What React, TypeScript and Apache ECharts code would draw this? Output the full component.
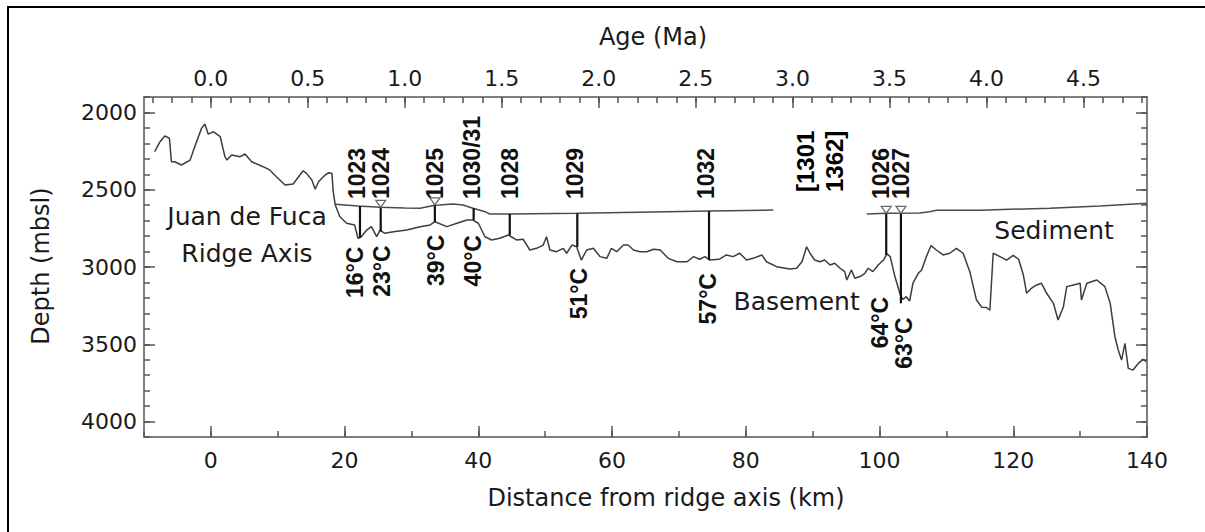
import { useEffect, useRef } from "react";
import * as echarts from "echarts";

// Axis ticks
const distanceTicks = [0, 20, 40, 60, 80, 100, 120, 140];
const ageTicks = [0.0, 0.5, 1.0, 1.5, 2.0, 2.5, 3.0, 3.5, 4.0, 4.5];
const depthTicks = [2000, 2500, 3000, 3500, 4000];

// Spreading rate linking crustal age to distance from the ridge axis
const KM_PER_MA = 29;

// Basement (igneous crust) profile
const basementKm = [
  -8.4, -7.6, -6.9, -6.2, -5.9, -5.4, -4.4, -3.1, -2.4, -1.4, -0.9, -0.4, 0.4, 1.4, 2.1, 2.4, 3.1, 4.4, 5.1, 6.1,
  7.8, 8.8, 9.8, 11.1, 12.3, 13.8, 14.3, 15.1, 15.6, 16.1, 16.6, 17.1, 17.6, 18.1, 18.3, 18.6, 19.3, 20.3, 21.5, 22.0,
  22.5, 23.3, 24.0, 24.8, 25.3, 26.0, 27.3, 29.3, 31.3, 32.8, 33.5, 35.3, 36.8, 38.3, 39.2, 40.0, 41.0, 42.0, 43.2, 44.5,
  45.7, 46.7, 47.7, 48.7, 49.7, 50.2, 50.7, 51.7, 52.7, 53.2, 54.0, 54.7, 55.4, 56.2, 57.2, 58.2, 59.2, 59.9, 60.7, 61.7,
  62.4, 63.2, 64.2, 65.2, 66.2, 67.2, 68.4, 69.7, 71.2, 72.2, 73.1, 73.9, 74.6, 76.0, 77.1, 78.1, 79.1, 80.1, 81.1, 82.4,
  83.1, 84.6, 86.6, 87.6, 88.4, 89.1, 89.6, 90.3, 91.1, 91.8, 92.6, 93.3, 94.1, 94.8, 95.1, 95.8, 96.3, 97.1, 97.8, 98.3,
  99.0, 99.8, 100.6, 101.1, 101.6, 102.3, 103.1, 103.5, 104.0, 104.5, 105.0, 105.8, 106.3, 107.0, 107.7, 108.5, 109.5, 110.5, 111.5, 112.5,
  113.5, 114.5, 115.3, 116.0, 116.5, 117.0, 118.0, 119.0, 120.0, 120.8, 121.5, 122.0, 122.7, 123.5, 124.2, 125.0, 126.0, 126.7, 127.5, 128.0,
  129.0, 130.0, 130.2, 131.0, 132.5, 133.7, 134.5, 135.2, 135.7, 136.2, 136.7, 137.2, 137.9, 138.7, 139.4, 139.9,
];
const basementDepth = [
  2254, 2189, 2152, 2167, 2319, 2319, 2340, 2308, 2221, 2103, 2075, 2140, 2125, 2157, 2286, 2308, 2275, 2286, 2269, 2319,
  2351, 2372, 2416, 2469, 2463, 2377, 2394, 2437, 2497, 2448, 2426, 2405, 2390, 2394, 2513, 2599, 2675, 2717, 2728, 2814,
  2804, 2761, 2739, 2804, 2761, 2782, 2772, 2761, 2739, 2728, 2707, 2739, 2717, 2696, 2696, 2717, 2804, 2825, 2814, 2793,
  2825, 2820, 2890, 2879, 2858, 2804, 2890, 2901, 2879, 2911, 2858, 2869, 2955, 2890, 2879, 2933, 2944, 2879, 2901, 2858,
  2858, 2890, 2901, 2901, 2885, 2890, 2944, 2966, 2966, 2933, 2950, 2933, 2955, 2950, 2922, 2933, 2911, 2955, 2944, 2922,
  2966, 2998, 3013, 3008, 2966, 2869, 2911, 2955, 2966, 2955, 2987, 2976, 3008, 3030, 3084, 3019, 3073, 3062, 3041, 3008,
  3030, 2987, 2955, 2915, 2933, 3062, 3180, 3210, 3192, 3220, 3105, 3041, 3019, 2933, 2862, 2890, 2922, 2911, 2879, 2911,
  3030, 3214, 3260, 3262, 3280, 2911, 2933, 2955, 2925, 2950, 3050, 3170, 3138, 3116, 3105, 3170, 3235, 3343, 3257, 3127,
  3116, 3105, 3214, 3105, 3084, 3127, 3235, 3451, 3537, 3602, 3494, 3656, 3667, 3624, 3598, 3612,
];

// Sediment surface (two surveyed segments)
const sedimentKmWest = [18.6, 22.0, 25.3, 29.0, 31.3, 33.5, 34.2, 36.2, 37.7, 39.2, 41.0, 41.7, 44.7, 54.7, 64.0, 74.6, 84.1];
const sedimentDepthWest = [2594, 2605, 2614, 2618, 2620, 2600, 2599, 2592, 2599, 2620, 2642, 2657, 2657, 2653, 2646, 2638, 2631];
const sedimentKmEast = [98.1, 101.1, 106.0, 107.5, 108.5, 115.0, 125.5, 133.0, 140.0];
const sedimentDepthEast = [2657, 2653, 2650, 2643, 2633, 2632, 2620, 2605, 2588];

// ODP Leg 168 drill sites
const siteNames = ["1023", "1024", "1025", "1030/31", "1028", "1029", "1032", "1026", "1027"];
const siteKm = [22.3, 25.4, 33.5, 39.3, 44.7, 54.8, 74.5, 101.0, 103.2];
const siteTopDepth = [2605, 2614, 2598, 2620, 2657, 2653, 2638, 2653, 2653];
const siteBaseDepth = [2810, 2770, 2707, 2696, 2793, 2870, 2955, 2922, 3235];
const siteTemps = ["16°C", "23°C", "39°C", "40°C", "", "51°C", "57°C", "64°C", "63°C"];
const siteMarked = [false, true, true, false, false, false, false, true, true];

// IODP sites shown without a borehole
const otherSiteNames = ["[1301", "1362]"];
const otherSiteKm = [88.9, 93.3];

// Text annotations
const noteTexts = ["Juan de Fuca\nRidge Axis", "Sediment", "Basement"];
const noteKm = [5.4, 126.1, 87.6];
const noteDepth = [2792, 2767, 3220];

// Layout for the site annotations (pixels)
const SITE_LABEL_DEPTH = 2560;
const OTHER_LABEL_DEPTH = 2515;
const siteLabelDx = [-3, 0, 0, -2, 0, -2, -3, -5, 0];
const tempLabelDx = [-5, 1, 1, -1, 0, 2, -1, -6, 3];
const tempLabelGap = [9, 14, 13, 15, 0, 21, 13, 42, 14];

function steps(from: number, to: number, step: number): number[] {
  const out: number[] = [];
  const n = Math.round((to - from) / step);
  for (let i = 0; i <= n; i++) out.push(Math.round((from + i * step) * 1000) / 1000);
  return out;
}

const axisColor = "#555";
const textColor = "#1a1a1a";
const sansFont = "DejaVu Sans";
const boldFont = "Liberation Sans";

export default function App() {
  const ref = useRef<HTMLDivElement | null>(null);

  useEffect(() => {
    if (!ref.current) return;
    const chart = echarts.init(ref.current, undefined, { renderer: "svg" });

    const lineStyle = { color: axisColor, width: 1.5 };
    const labelStyle = { fontSize: 22, fontFamily: sansFont, color: textColor };

    const ageTickKm = ageTicks.map((a) => a * KM_PER_MA);
    const ageMinorKm = steps(-0.3, 4.8, 0.1).map((a) => a * KM_PER_MA);

    const majorAxis = (position: string, ticks: number[], min: number, max: number, labels: any, extra: any = {}) => ({
      type: "value",
      position,
      min,
      max,
      ...extra,
      axisLine: { show: true, onZero: false, lineStyle },
      axisTick: { show: true, inside: true, length: 11, customValues: ticks, lineStyle },
      axisLabel: labels ? { show: true, customValues: ticks, ...labelStyle, ...labels } : { show: false },
      splitLine: { show: false },
    });
    const minorAxis = (position: string, ticks: number[], min: number, max: number, extra: any = {}) => ({
      type: "value",
      position,
      min,
      max,
      ...extra,
      axisLine: { show: false, onZero: false },
      axisTick: { show: true, inside: true, length: 6, customValues: ticks, lineStyle },
      axisLabel: { show: false },
      splitLine: { show: false },
    });

    const sitesData = siteKm.map((x, i) => [x, siteTopDepth[i], siteBaseDepth[i]]);

    const rotatedText = (text: string, x: number, y: number, align: string, size: number, fill: string) => ({
      type: "text",
      x,
      y,
      rotation: Math.PI / 2,
      style: {
        text,
        fill,
        fontSize: size,
        fontWeight: "bold",
        fontFamily: boldFont,
        textAlign: align,
        textVerticalAlign: "middle",
        align,
        verticalAlign: "middle",
      },
    });

    const option: any = {
      animation: false,
      backgroundColor: "#fff",
      grid: { left: 144, right: 58, top: 97, bottom: 95, containLabel: false, outerBoundsMode: "none" },
      xAxis: [
        majorAxis("bottom", distanceTicks, -10, 140, { margin: 12, formatter: (v: number) => String(v) }),
        minorAxis("bottom", steps(-10, 140, 10), -10, 140),
        majorAxis("top", ageTickKm, -10, 140, {
          margin: 8,
          formatter: (v: number) => (v / KM_PER_MA).toFixed(1),
        }),
        minorAxis("top", ageMinorKm, -10, 140),
      ],
      yAxis: [
        majorAxis("left", depthTicks, 1900, 4100, { margin: 7, formatter: (v: number) => String(v) }, { inverse: true }),
        minorAxis("left", steps(1900, 4100, 100), 1900, 4100, { inverse: true }),
        majorAxis("right", depthTicks, 1900, 4100, null, { inverse: true }),
        minorAxis("right", steps(1900, 4100, 100), 1900, 4100, { inverse: true }),
      ],
      graphic: [
        {
          // page frame: its right and bottom edges fall outside the canvas
          type: "rect",
          silent: true,
          shape: { x: 8, y: 7, width: 1210, height: 540 },
          style: { fill: "none", stroke: "#000", lineWidth: 2 },
        },
        {
          type: "text",
          x: 653,
          y: 37,
          style: { text: "Age (Ma)", fill: textColor, fontSize: 24, fontFamily: sansFont, textAlign: "center", textVerticalAlign: "middle" },
        },
        {
          type: "text",
          x: 666,
          y: 498,
          style: {
            text: "Distance from ridge axis (km)",
            fill: textColor,
            fontSize: 24,
            fontFamily: sansFont,
            textAlign: "center",
            textVerticalAlign: "middle",
          },
        },
        {
          type: "text",
          x: 41,
          y: 266,
          rotation: Math.PI / 2,
          style: { text: "Depth (mbsl)", fill: textColor, fontSize: 24, fontFamily: sansFont, textAlign: "center", textVerticalAlign: "middle" },
        },
      ],
      series: [
        {
          name: "Basement",
          type: "line",
          xAxisIndex: 0,
          yAxisIndex: 0,
          symbol: "none",
          data: basementKm.map((x, i) => [x, basementDepth[i]]),
          lineStyle: { color: "#3d3d3d", width: 1.5 },
          z: 3,
        },
        {
          name: "Sediment west",
          type: "line",
          xAxisIndex: 0,
          yAxisIndex: 0,
          symbol: "none",
          data: sedimentKmWest.map((x, i) => [x, sedimentDepthWest[i]]),
          lineStyle: { color: "#4a4a4a", width: 1.5 },
          z: 3,
        },
        {
          name: "Sediment east",
          type: "line",
          xAxisIndex: 0,
          yAxisIndex: 0,
          symbol: "none",
          data: sedimentKmEast.map((x, i) => [x, sedimentDepthEast[i]]),
          lineStyle: { color: "#4a4a4a", width: 1.5 },
          z: 3,
        },
        {
          name: "Sites",
          type: "custom",
          xAxisIndex: 0,
          yAxisIndex: 0,
          data: sitesData,
          encode: { x: 0, y: [1, 2] },
          z: 5,
          renderItem: (params: any, api: any) => {
            const i = params.dataIndex;
            const x = api.value(0);
            const top = api.coord([x, api.value(1)]);
            const bot = api.coord([x, api.value(2)]);
            const base = api.coord([x, SITE_LABEL_DEPTH]);
            const children: any[] = [
              {
                type: "line",
                shape: { x1: top[0], y1: top[1], x2: bot[0], y2: bot[1] },
                style: { stroke: "#111", lineWidth: 2.2 },
              },
            ];
            if (siteMarked[i]) {
              children.push({
                type: "polygon",
                shape: {
                  points: [
                    [top[0] - 5, top[1] - 7],
                    [top[0] + 5, top[1] - 7],
                    [top[0], top[1]],
                  ],
                },
                style: { fill: "#fff", stroke: "#666", lineWidth: 1.2 },
              });
            }
            children.push(rotatedText(siteNames[i], top[0] + siteLabelDx[i], base[1], "left", 23, "#111"));
            if (siteTemps[i]) {
              children.push(rotatedText(siteTemps[i], bot[0] + tempLabelDx[i], bot[1] + tempLabelGap[i], "right", 23, "#111"));
            }
            return { type: "group", children };
          },
        },
        {
          name: "Other sites",
          type: "custom",
          xAxisIndex: 0,
          yAxisIndex: 0,
          data: otherSiteKm.map((x) => [x, OTHER_LABEL_DEPTH]),
          encode: { x: 0, y: 1 },
          z: 5,
          renderItem: (params: any, api: any) => {
            const p = api.coord([api.value(0), api.value(1)]);
            return rotatedText(otherSiteNames[params.dataIndex], p[0], p[1], "left", 24, "#000");
          },
        },
        {
          name: "Notes",
          type: "custom",
          xAxisIndex: 0,
          yAxisIndex: 0,
          data: noteKm.map((x, i) => [x, noteDepth[i]]),
          encode: { x: 0, y: 1 },
          z: 4,
          renderItem: (params: any, api: any) => {
            const p = api.coord([api.value(0), api.value(1)]);
            return {
              type: "text",
              x: p[0],
              y: p[1],
              style: {
                text: noteTexts[params.dataIndex],
                fill: textColor,
                fontSize: 25,
                fontFamily: sansFont,
                lineHeight: 37,
                textAlign: "center",
                textVerticalAlign: "middle",
                align: "center",
                verticalAlign: "middle",
              },
            };
          },
        },
      ],
    };

    chart.setOption(option);
    return () => chart.dispose();
  }, []);

  return (
    <div
      ref={ref}
      style={{ position: "fixed", left: 0, top: 0, width: 1205, height: 532, background: "#fff" }}
    />
  );
}
